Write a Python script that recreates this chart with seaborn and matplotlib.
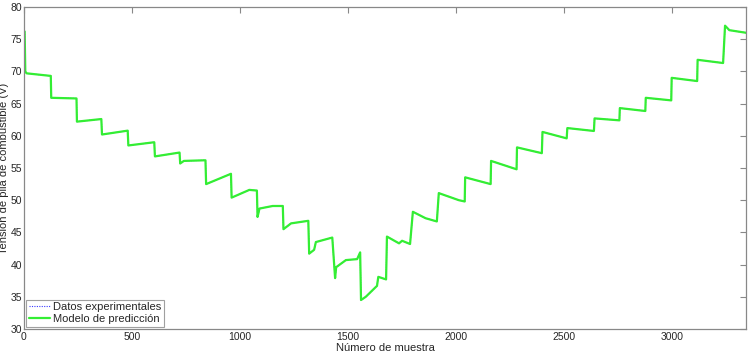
import pandas as pd
import matplotlib
matplotlib.use("Agg")
import matplotlib.pyplot as plt
import seaborn as sns

# vertices (numero de muestra, tension en V)
muestra = [3, 6, 12, 124, 126, 243, 245, 358, 361, 480, 483, 603, 606, 720,
           723, 740, 840, 843, 958, 961, 1043, 1078, 1081, 1090, 1151, 1198,
           1201, 1236, 1316, 1320, 1343, 1351, 1427, 1440, 1445, 1490, 1542,
           1556, 1560, 1582, 1634, 1640, 1676, 1680, 1736, 1750, 1787, 1800,
           1859, 1911, 1920, 2013, 2040, 2042, 2160, 2162, 2280, 2282, 2397,
           2400, 2512, 2515, 2638, 2641, 2756, 2758, 2876, 2878, 2996, 2998,
           3116, 3118, 3236, 3245, 3265, 3342]
tension_exp = [76.2, 70.0, 69.7, 69.3, 65.9, 65.8, 62.2, 62.6, 60.2, 60.8, 58.5,
               59.0, 56.8, 57.4, 55.7, 56.1, 56.2, 52.5, 54.1, 50.4, 51.6, 51.5,
               47.4, 48.7, 49.1, 49.1, 45.5, 46.4, 46.8, 41.7, 42.3, 43.5, 44.2,
               37.9, 39.6, 40.7, 40.85, 41.9, 34.5, 35.0, 36.7, 38.1, 37.7, 44.35,
               43.3, 43.7, 43.2, 48.2, 47.2, 46.7, 51.1, 50.0, 49.8, 53.55, 52.5,
               56.1, 54.8, 58.2, 57.3, 60.6, 59.6, 61.2, 60.75, 62.7, 62.4, 64.3,
               63.85, 65.9, 65.5, 69.0, 68.5, 71.8, 71.3, 77.1, 76.4, 76.0]
tension_modelo = list(tension_exp)

x_ticks = [0, 500, 1000, 1500, 2000, 2500, 3000]
y_ticks = [30, 35, 40, 45, 50, 55, 60, 65, 70, 75, 80]

df = pd.concat([
    pd.DataFrame({"muestra": muestra, "V": tension_exp, "serie": "Datos experimentales"}),
    pd.DataFrame({"muestra": muestra, "V": tension_modelo, "serie": "Modelo de predicción"}),
], ignore_index=True)

sns.set_style("white")
plt.rcParams["font.family"] = ["Liberation Sans", "DejaVu Sans"]

fig = plt.figure(figsize=(7.52, 3.53), dpi=100)
ax = fig.add_axes([24 / 752, 24 / 353, 722 / 752, 322 / 353])

sns.lineplot(data=df, x="muestra", y="V", hue="serie", style="serie",
             palette={"Datos experimentales": "#3a3aff", "Modelo de predicción": "#33ee33"},
             dashes={"Datos experimentales": (1, 1.2), "Modelo de predicción": ""},
             size="serie", sizes={"Datos experimentales": 0.8, "Modelo de predicción": 1.6},
             estimator=None, sort=False, ax=ax)

ax.set_xlim(0, 3342)
ax.set_ylim(30, 80)
ax.set_xticks(x_ticks)
ax.set_yticks(y_ticks)
ax.tick_params(direction="in", length=4, width=0.8, color="#888888",
               top=True, right=True, labelsize=7.5, pad=2)
ax.tick_params(axis="y", pad=1.5)
for s in ax.spines.values():
    s.set_color("#888888")
    s.set_linewidth(0.9)

ax.set_xlabel("Número de muestra", fontsize=8, labelpad=1)
ax.set_ylabel("Tensión de pila de combustible (V)", fontsize=8, labelpad=1)

leg = ax.legend(loc="lower left", fontsize=8, frameon=True, fancybox=False,
                borderaxespad=0.2, handlelength=1.9, handletextpad=0.3,
                labelspacing=0.15, borderpad=0.25)
leg.get_frame().set_edgecolor("#888888")
leg.get_frame().set_linewidth(0.8)

fig.savefig("out.png", dpi=100)
